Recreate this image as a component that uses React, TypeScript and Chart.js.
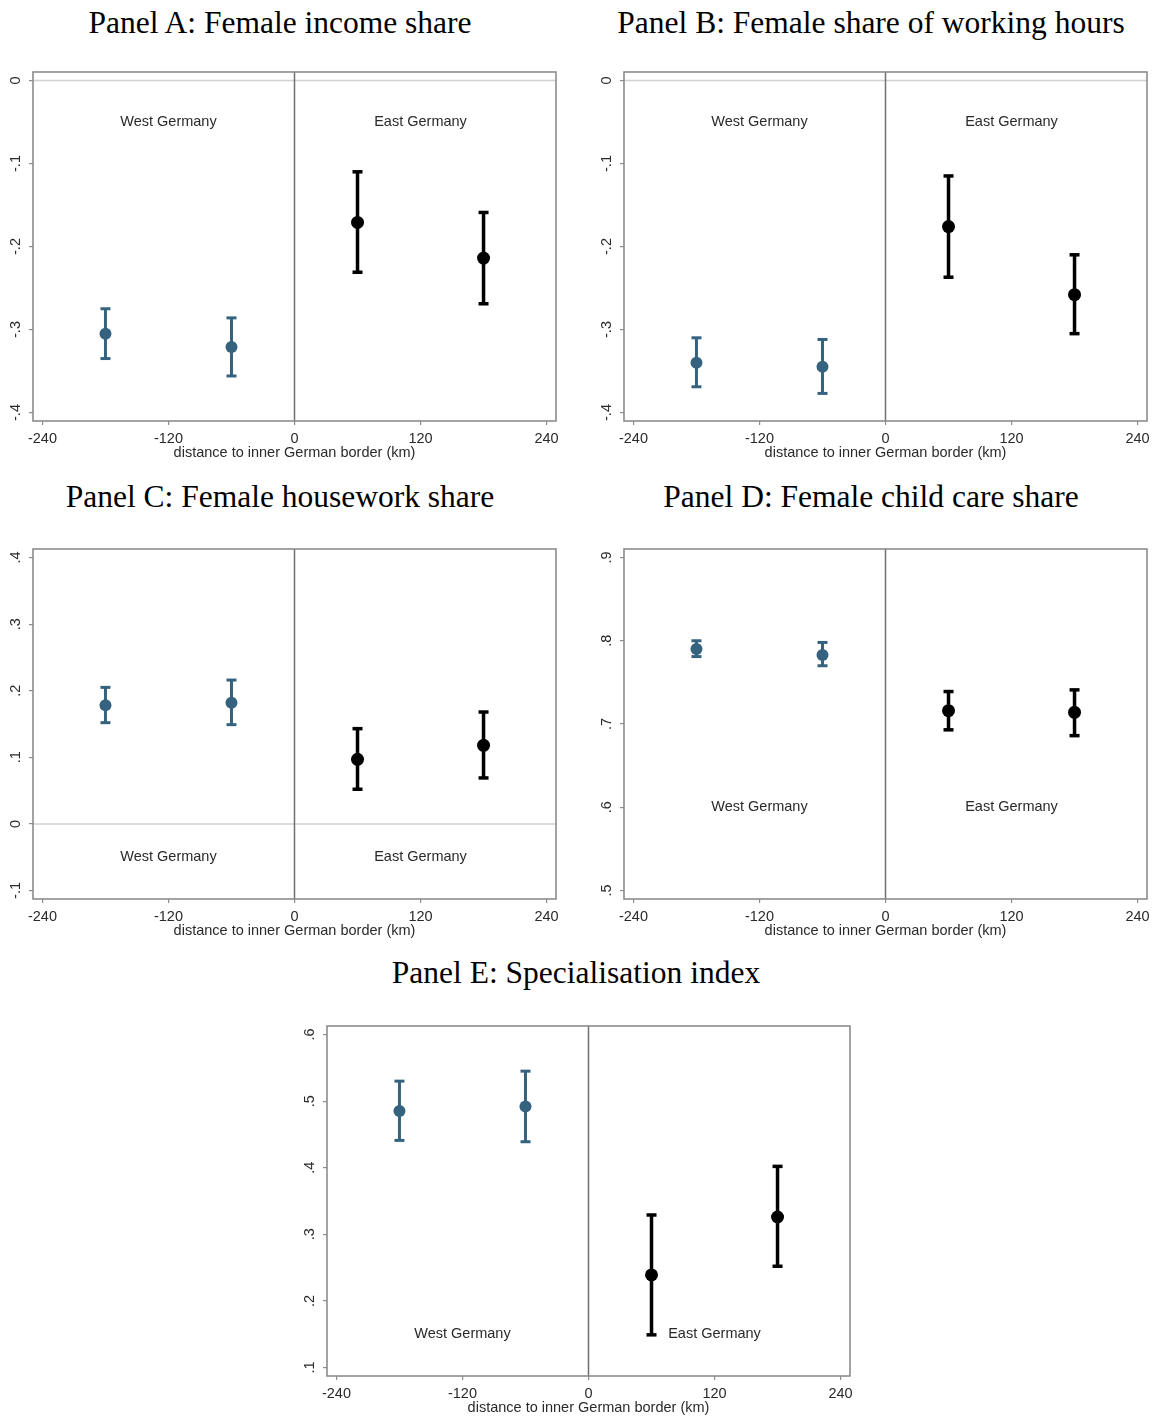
import React, { useEffect, useRef } from "react";
import { Chart, registerables } from "chart.js";

Chart.register(...registerables);

const SANS = '"Liberation Sans", Arial, sans-serif';
const SERIF = '"Liberation Serif", "Times New Roman", serif';

// ---------- shared data ----------
const xPositions = [-180, -60, 60, 180];
const xTickValues = [-240, -120, 0, 120, 240];
const xTickLabels = ["-240", "-120", "0", "120", "240"];
const xAxisTitle = "distance to inner German border (km)";
const regionNames = ["West Germany", "East Germany"];
const regionX = [-120, 120];
const westIdx = [0, 1];
const eastIdx = [2, 3];

// ---------- Panel A ----------
const titleA = "Panel A: Female income share";
const estA = [-0.305, -0.321, -0.171, -0.214];
const loA = [-0.335, -0.356, -0.231, -0.269];
const hiA = [-0.275, -0.286, -0.110, -0.159];
const yTicksA = [0, -0.1, -0.2, -0.3, -0.4];
const yTickLabelsA = ["0", "-.1", "-.2", "-.3", "-.4"];
const regionYA = -0.05;

// ---------- Panel B ----------
const titleB = "Panel B: Female share of working hours";
const estB = [-0.340, -0.345, -0.176, -0.258];
const loB = [-0.369, -0.377, -0.237, -0.305];
const hiB = [-0.310, -0.312, -0.115, -0.210];
const yTicksB = [0, -0.1, -0.2, -0.3, -0.4];
const yTickLabelsB = ["0", "-.1", "-.2", "-.3", "-.4"];
const regionYB = -0.05;

// ---------- Panel C ----------
const titleC = "Panel C: Female housework share";
const estC = [0.178, 0.182, 0.097, 0.118];
const loC = [0.152, 0.149, 0.052, 0.069];
const hiC = [0.205, 0.216, 0.143, 0.168];
const yTicksC = [-0.1, 0, 0.1, 0.2, 0.3, 0.4];
const yTickLabelsC = ["-.1", "0", ".1", ".2", ".3", ".4"];
const regionYC = -0.05;

// ---------- Panel D ----------
const titleD = "Panel D: Female child care share";
const estD = [0.790, 0.783, 0.716, 0.714];
const loD = [0.781, 0.770, 0.693, 0.686];
const hiD = [0.800, 0.798, 0.739, 0.741];
const yTicksD = [0.5, 0.6, 0.7, 0.8, 0.9];
const yTickLabelsD = [".5", ".6", ".7", ".8", ".9"];
const regionYD = 0.6;

// ---------- Panel E ----------
const titleE = "Panel E: Specialisation index";
const estE = [0.485, 0.492, 0.239, 0.326];
const loE = [0.441, 0.439, 0.149, 0.252];
const hiE = [0.530, 0.545, 0.329, 0.402];
const yTicksE = [0.1, 0.2, 0.3, 0.4, 0.5, 0.6];
const yTickLabelsE = [".1", ".2", ".3", ".4", ".5", ".6"];
const regionYE = 0.15;

// ---------- styles / layout ----------
const BLUE = "#35637f";
const BLACK = "#000000";
const TEXT = "#2a2a2a";
const FRAME = "#8c8c8c";
const VLINE = "#707070";
const ZLINE = "#d0d0d0";
const FS = 14.5;
const TICK = 4;
const X_MIN = -249;
const X_MAX = 249;
const AXIS_Y_W = 33;
const PAD_TOP = 10;
const PAD_RIGHT = 12;
const X_AXIS_H = 41;
const PAD_BOTTOM = 4;

const panels = [
  { title: titleA, est: estA, lo: loA, hi: hiA, yTicks: yTicksA, yTickLabels: yTickLabelsA, regionY: regionYA,
    L: 33, T: 72, W: 523, H: 349, titleX: 280, titleBase: 32.5 },
  { title: titleB, est: estB, lo: loB, hi: hiB, yTicks: yTicksB, yTickLabels: yTickLabelsB, regionY: regionYB,
    L: 624, T: 72, W: 523, H: 349, titleX: 871, titleBase: 32.5 },
  { title: titleC, est: estC, lo: loC, hi: hiC, yTicks: yTicksC, yTickLabels: yTickLabelsC, regionY: regionYC,
    L: 33, T: 549, W: 523, H: 350, titleX: 280, titleBase: 507 },
  { title: titleD, est: estD, lo: loD, hi: hiD, yTicks: yTicksD, yTickLabels: yTickLabelsD, regionY: regionYD,
    L: 624, T: 549, W: 523, H: 350, titleX: 871, titleBase: 507 },
  { title: titleE, est: estE, lo: loE, hi: hiE, yTicks: yTicksE, yTickLabels: yTickLabelsE, regionY: regionYE,
    L: 327, T: 1026, W: 523, H: 350, titleX: 576, titleBase: 983 },
];

function Panel({ p }: { p: any }) {
  const ref = useRef<HTMLCanvasElement | null>(null);
  const cw = AXIS_Y_W + p.W + PAD_RIGHT;
  const ch = PAD_TOP + p.H + X_AXIS_H + PAD_BOTTOM;

  useEffect(() => {
    const canvas = ref.current;
    if (!canvas) return;
    const yMin = Math.min(...p.yTicks);
    const yMax = Math.max(...p.yTicks);
    const pad = (yMax - yMin) * 0.0256;
    const lo = yMin - pad;
    const hi = yMax + pad;

    const mctx = document.createElement("canvas").getContext("2d") as CanvasRenderingContext2D;
    mctx.font = `${FS}px ${SANS}`;
    const widest = Math.max(...p.yTickLabels.map((l: string) => mctx.measureText(l).width));
    const yPad = 17 - TICK - widest / 2;

    const bars = (idx: number[]) =>
      idx.flatMap((i) => [
        { x: xPositions[i], y: p.lo[i] },
        { x: xPositions[i], y: p.hi[i] },
        { x: xPositions[i], y: null },
      ]);
    const pts = (idx: number[]) => idx.map((i) => ({ x: xPositions[i], y: p.est[i] }));

    const datasets: any[] = [
      { type: "scatter", data: pts(westIdx), pointRadius: 6, pointBackgroundColor: BLUE, pointBorderWidth: 0, order: 1 },
      { type: "scatter", data: pts(eastIdx), pointRadius: 6.5, pointBackgroundColor: BLACK, pointBorderWidth: 0, order: 1 },
      { type: "line", data: bars(westIdx), borderColor: BLUE, borderWidth: 3, pointStyle: "line", pointRadius: 5,
        pointBorderWidth: 3, pointBorderColor: BLUE, spanGaps: false, fill: false, order: 2 },
      { type: "line", data: bars(eastIdx), borderColor: BLACK, borderWidth: 3.5, pointStyle: "line", pointRadius: 5,
        pointBorderWidth: 3.5, pointBorderColor: BLACK, spanGaps: false, fill: false, order: 2 },
      { type: "line", data: [{ x: 0, y: lo }, { x: 0, y: hi }], borderColor: VLINE, borderWidth: 1.5, pointRadius: 0, order: 4 },
    ];
    if (lo < 0 && hi > 0) {
      datasets.push({ type: "line", data: [{ x: X_MIN, y: 0 }, { x: X_MAX, y: 0 }], borderColor: ZLINE, borderWidth: 1.5, pointRadius: 0, order: 5 });
    }

    const plugin = {
      id: "frameLabels",
      beforeDatasetsDraw(chart: any) {
        const { ctx, scales } = chart;
        ctx.save();
        ctx.fillStyle = TEXT;
        ctx.font = `${FS}px ${SANS}`;
        ctx.textAlign = "center";
        ctx.textBaseline = "middle";
        regionNames.forEach((n, i) => {
          ctx.fillText(n, scales.x.getPixelForValue(regionX[i]), scales.y.getPixelForValue(p.regionY));
        });
        ctx.restore();
      },
      afterDatasetsDraw(chart: any) {
        const { ctx, chartArea: a } = chart;
        ctx.save();
        ctx.strokeStyle = FRAME;
        ctx.lineWidth = 1.6;
        ctx.strokeRect(a.left, a.top, a.right - a.left, a.bottom - a.top);
        ctx.restore();
      },
    };

    const chart = new Chart(canvas, {
      type: "scatter",
      data: { datasets },
      plugins: [plugin],
      options: {
        animation: false,
        responsive: false,
        devicePixelRatio: 1,
        events: [],
        layout: { padding: { top: PAD_TOP, right: PAD_RIGHT, bottom: PAD_BOTTOM, left: 0 } },
        plugins: { legend: { display: false }, tooltip: { enabled: false }, title: { display: false } },
        scales: {
          x: {
            type: "linear",
            min: X_MIN,
            max: X_MAX,
            afterBuildTicks: (s: any) => {
              s.ticks = xTickValues.map((v) => ({ value: v }));
            },
            afterFit: (s: any) => {
              s.height = X_AXIS_H;
              s.paddingLeft = 0;
              s.paddingRight = 0;
            },
            ticks: {
              autoSkip: false,
              maxRotation: 0,
              minRotation: 0,
              padding: 5.5,
              color: TEXT,
              font: { family: SANS, size: FS },
              callback: (v: any) => xTickLabels[xTickValues.indexOf(Number(v))],
            },
            grid: { display: true, drawOnChartArea: false, drawTicks: true, tickLength: TICK, color: FRAME, lineWidth: 1.2 },
            border: { display: false },
            title: { display: true, text: xAxisTitle, color: TEXT, font: { family: SANS, size: FS }, padding: 0 },
          },
          y: {
            type: "linear",
            min: lo,
            max: hi,
            afterBuildTicks: (s: any) => {
              s.ticks = p.yTicks.map((v: number) => ({ value: v }));
            },
            afterFit: (s: any) => {
              s.width = AXIS_Y_W;
              s.paddingTop = 0;
              s.paddingBottom = 0;
            },
            ticks: {
              autoSkip: false,
              minRotation: 90,
              maxRotation: 90,
              crossAlign: "center",
              padding: yPad,
              color: TEXT,
              font: { family: SANS, size: FS },
              callback: (v: any) => {
                const k = p.yTicks.findIndex((t: number) => Math.abs(t - Number(v)) < 1e-9);
                return k >= 0 ? p.yTickLabels[k] : "";
              },
            },
            grid: { display: true, drawOnChartArea: false, drawTicks: true, tickLength: TICK, color: FRAME, lineWidth: 1.2 },
            border: { display: false },
          },
        },
      } as any,
    });
    return () => chart.destroy();
  }, [p]);

  return (
    <>
      <div
        style={{
          position: "absolute",
          left: p.titleX,
          top: p.titleBase - 26,
          transform: "translateX(-50%)",
          whiteSpace: "nowrap",
          fontFamily: SERIF,
          fontSize: 31.5,
          lineHeight: "31.5px",
          color: "#000",
        }}
      >
        {p.title}
      </div>
      <canvas
        ref={ref}
        width={cw}
        height={ch}
        style={{ position: "absolute", left: p.L - AXIS_Y_W, top: p.T - PAD_TOP, width: cw, height: ch, display: "block" }}
      />
    </>
  );
}

export default function App() {
  return (
    <div style={{ position: "absolute", left: 0, top: 0, width: 1159, height: 1418, background: "#fff", overflow: "hidden" }}>
      {panels.map((p, i) => (
        <Panel key={i} p={p} />
      ))}
    </div>
  );
}
